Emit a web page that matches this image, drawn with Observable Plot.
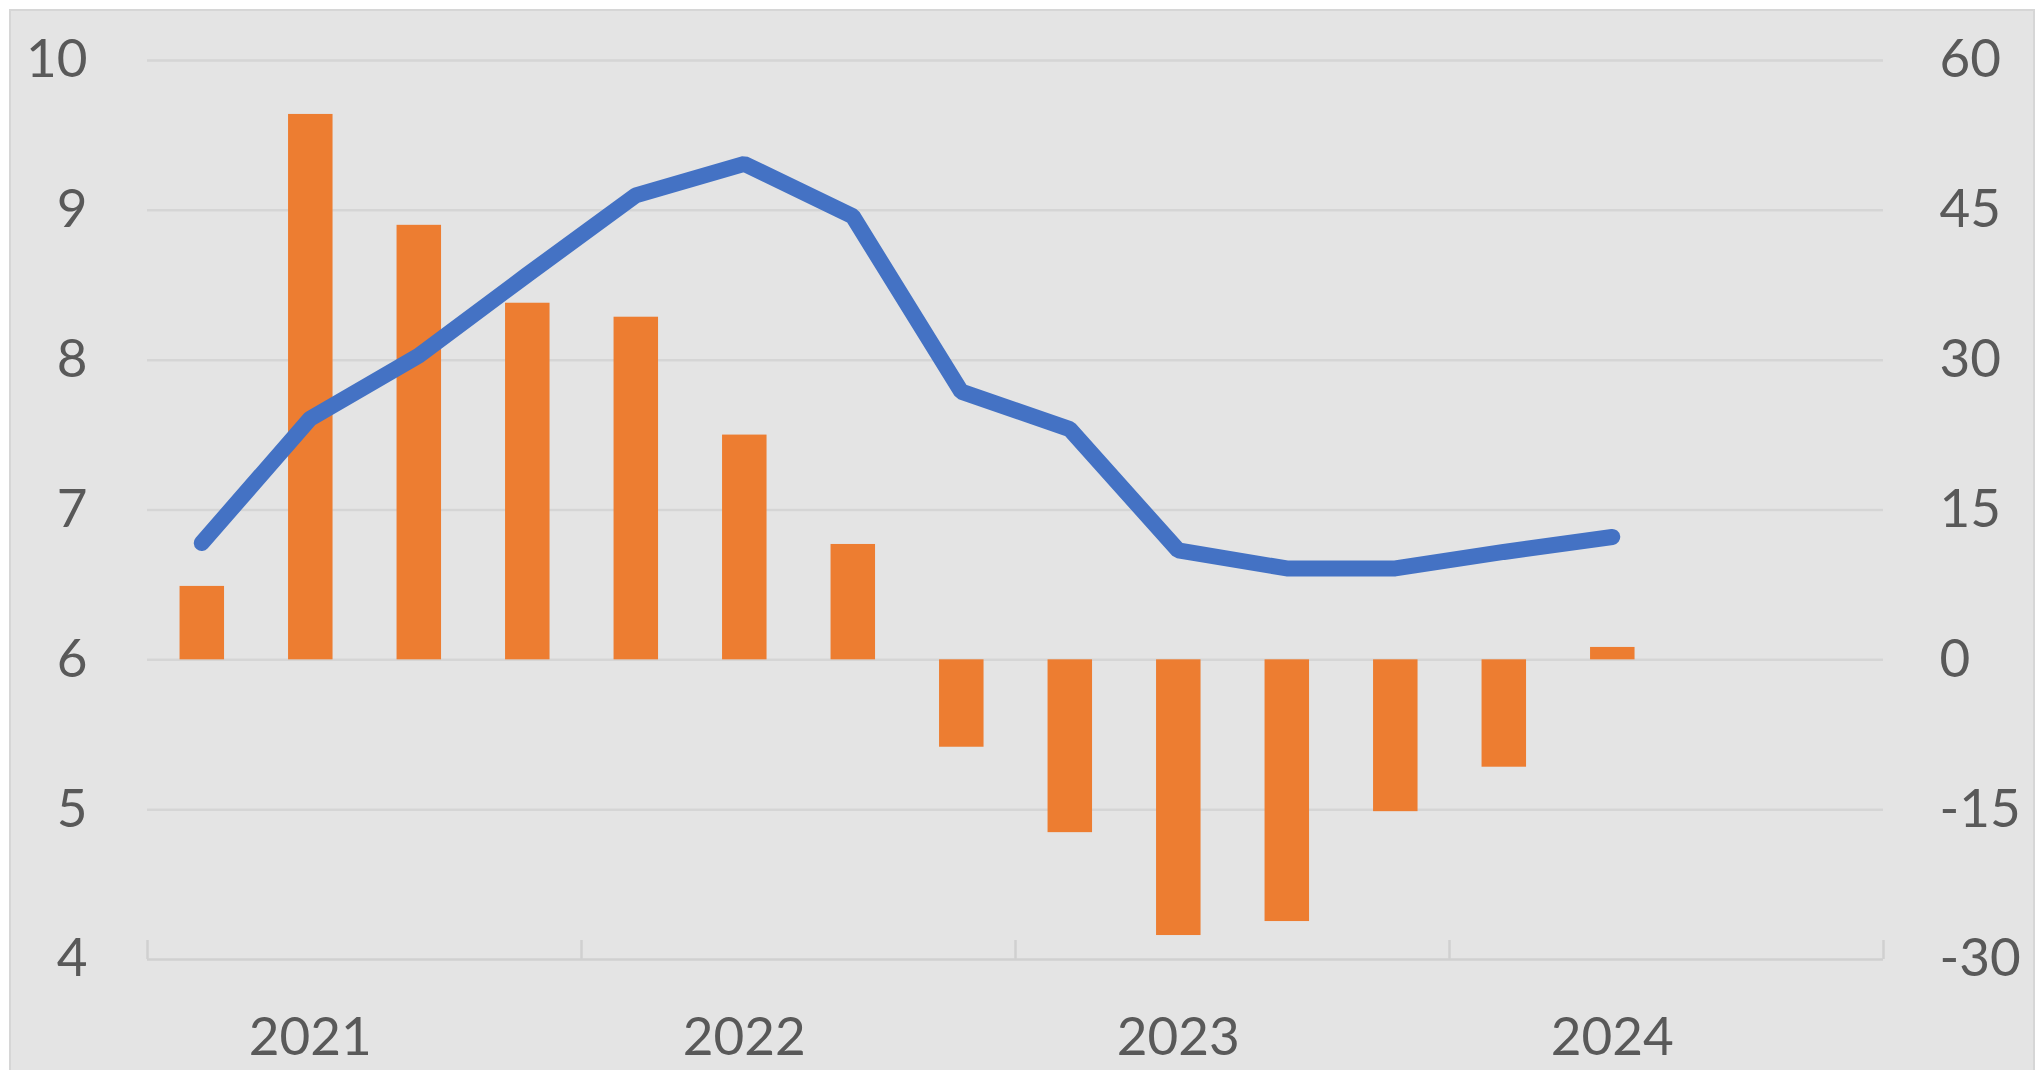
<!DOCTYPE html>
<html>
<head>
<meta charset="utf-8">
<script src="https://cdn.jsdelivr.net/npm/d3@7"></script>
<script src="https://cdn.jsdelivr.net/npm/@observablehq/plot@0.6"></script>
<style>
  html, body { margin: 0; padding: 0; background: #ffffff; overflow: hidden; }
  #chart { position: absolute; left: 11px; top: 11px; width: 2022px; height: 1059px;
           background: #e4e4e4; outline: 2px solid #d6d6d6; }
  #chart svg { display: block; background: transparent; }
</style>
</head>
<body>
<div id="chart"></div>
<script>
// Quarterly categories, 2021 Q1 – 2024 Q4
const quarters = ["2021Q1","2021Q2","2021Q3","2021Q4","2022Q1","2022Q2","2022Q3","2022Q4",
                  "2023Q1","2023Q2","2023Q3","2023Q4","2024Q1","2024Q2","2024Q3","2024Q4"];
const yearLabels = ["2021", "2022", "2023", "2024"];
// Line series (left axis, 4–10)
const lineValues = [6.78, 7.61, 8.03, 8.57, 9.10, 9.31, 8.96, 7.79, 7.54, 6.73, 6.61, 6.61, 6.72, 6.82];
// Bar series (right axis, -30–60)
const barValues = [7.35, 54.6, 43.5, 35.7, 34.3, 22.5, 11.55, -8.75, -17.3, -27.6, -26.2, -15.2, -10.75, 1.24];
// Axis ticks
const leftTicks = [4, 5, 6, 7, 8, 9, 10];
const rightTicks = [-30, -15, 0, 15, 30, 45, 60];

// right axis (-30..60) mapped onto left axis (4..10)
const toLeft = v => 6 + v / 15;
const toRight = y => Math.round((y - 6) * 15);

const lineData = lineValues.map((v, i) => ({q: quarters[i], i, v}));
const barData = barValues.map((v, i) => ({q: quarters[i], i, v}));
const yearEdges = [0, 4, 8, 12, 16];
const yearCenters = yearLabels.map((y, k) => k * 4 + 1.5);

const font = "Lato, 'Open Sans', sans-serif";
const textColor = "#595959";

const plot = Plot.plot({
  width: 2022,
  height: 1059,
  marginLeft: 136,
  marginRight: 150,
  marginTop: 49,
  marginBottom: 111,
  style: {fontFamily: font, fontSize: "53px", color: textColor, background: "transparent"},
  x: {type: "linear", domain: [0, quarters.length]},
  y: {domain: [4, 10]},
  marks: [
    Plot.ruleY(leftTicks.filter(t => t > 4), {stroke: "#d5d5d5", strokeWidth: 2.5}),
    Plot.ruleY([4], {stroke: "#d0d0d0", strokeWidth: 2.5}),
    Plot.ruleX(yearEdges, {y1: 4, y2: 4.127, stroke: "#d0d0d0", strokeWidth: 2.5}),
    Plot.rectY(barData, {
      x1: d => d.i + 0.3, x2: d => d.i + 0.71,
      y1: () => toLeft(0), y2: d => toLeft(d.v),
      fill: "#ED7D31"
    }),
    Plot.line(lineData, {
      x: d => d.i + 0.5, y: "v",
      stroke: "#4472C4", strokeWidth: 16,
      strokeLinecap: "round", strokeLinejoin: "miter"
    }),
    Plot.axisY({anchor: "left", ticks: leftTicks, tickSize: 0, tickPadding: 60,
                tickFormat: d => String(d), label: null, fill: textColor, fontSize: 53}),
    Plot.axisY({anchor: "right", ticks: rightTicks.map(toLeft), tickSize: 0, tickPadding: 56,
                tickFormat: y => String(toRight(y)), label: null, fill: textColor, fontSize: 53}),
    Plot.axisX({anchor: "bottom", ticks: yearCenters, tickSize: 0, tickPadding: 58,
                tickFormat: (x) => yearLabels[Math.round((x - 1.5) / 4)], label: null,
                fill: textColor, fontSize: 53})
  ]
});
document.getElementById("chart").appendChild(plot);
</script>
</body>
</html>
